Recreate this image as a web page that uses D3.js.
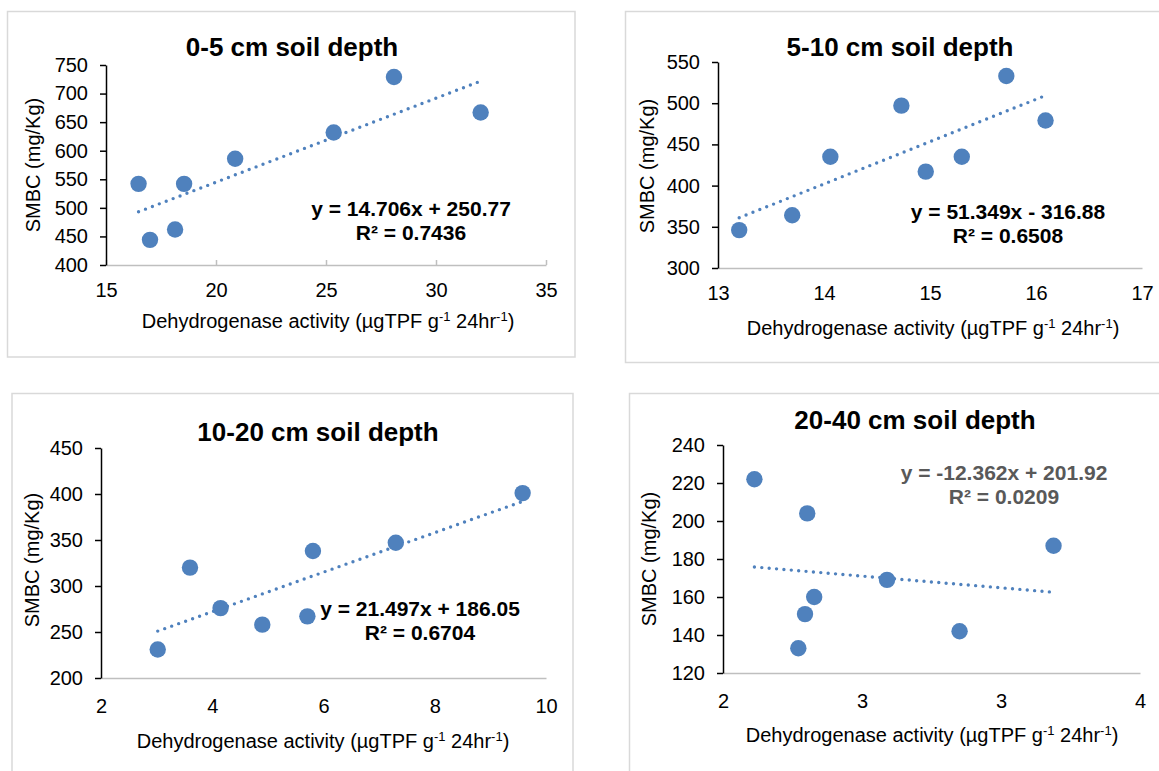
<!DOCTYPE html>
<html>
<head>
<meta charset="utf-8">
<script src="https://cdn.jsdelivr.net/npm/d3@7"></script>
<style>
  html, body { margin: 0; padding: 0; background: #ffffff; }
  svg { display: block; }
</style>
</head>
<body>
<svg id="chart" width="1159" height="771"></svg>
<script>
// ---------------- DATA ----------------
const titles = ["0-5 cm soil depth", "5-10 cm soil depth", "10-20 cm soil depth", "20-40 cm soil depth"];
const xAxisTitle = "Dehydrogenase activity (µgTPF g";
const yAxisTitle = "SMBC (mg/Kg)";

const x0_5 = [16.48, 17.0, 18.14, 18.55, 20.87, 25.35, 28.09, 32.03];
const y0_5 = [542, 444, 462, 542, 586, 632, 729, 667];

const x5_10 = [13.2, 13.7, 14.06, 14.73, 14.96, 15.3, 15.72, 16.09];
const y5_10 = [346, 364, 435, 497, 417, 435, 533, 479];

const x10_20 = [3.02, 3.6, 4.15, 4.9, 5.71, 5.81, 7.3, 9.58];
const y10_20 = [231, 320, 276, 258, 267, 338, 347, 401];

const x20_40 = [2.113, 2.303, 2.328, 2.295, 2.271, 2.59, 2.851, 3.189];
const y20_40 = [222, 204, 160, 151, 133, 169, 142, 187];

const slopes = [14.706, 51.349, 21.497, -12.362];
const intercepts = [250.77, -316.88, 186.05, 201.92];
const eqTexts = ["y = 14.706x + 250.77", "y = 51.349x - 316.88", "y = 21.497x + 186.05", "y = -12.362x + 201.92"];
const r2Texts = ["R² = 0.7436", "R² = 0.6508", "R² = 0.6704", "R² = 0.0209"];

const xDomains = [[15, 35], [13, 17], [2, 10], [2, 3.5]];
const yDomains = [[400, 750], [300, 550], [200, 450], [120, 240]];
const xTickValues = [[15, 20, 25, 30, 35], [13, 14, 15, 16, 17], [2, 4, 6, 8, 10], [2, 2.5, 3, 3.5]];
const xTickLabels = [["15", "20", "25", "30", "35"], ["13", "14", "15", "16", "17"], ["2", "4", "6", "8", "10"], ["2", "3", "3", "4"]];
const yTickValues = [[400, 450, 500, 550, 600, 650, 700, 750], [300, 350, 400, 450, 500, 550], [200, 250, 300, 350, 400, 450], [120, 140, 160, 180, 200, 220, 240]];

const xSeries = [x0_5, x5_10, x10_20, x20_40];
const ySeries = [y0_5, y5_10, y10_20, y20_40];

// ---------------- LAYOUT ----------------
const layout = [
  { box: [7.5, 11.5, 575, 357], px: [106, 546], py: [265, 65], title: [292, 47], eq: [411, 209], xt: [328, 321], yt: [33, 165], xlab: 18, xticks: true, eqColor: "#000000" },
  { box: [625.5, 11.5, 1175, 362.5], px: [718, 1142], py: [268, 62], title: [900, 47], eq: [1008, 212], xt: [933, 328], yt: [647, 166], xlab: 18, xticks: false, eqColor: "#000000" },
  { box: [12, 393.5, 573, 800], px: [101, 546], py: [678, 448], title: [318, 432], eq: [420, 609], xt: [323, 741], yt: [32, 560], xlab: 21, xticks: false, eqColor: "#000000" },
  { box: [629.5, 393.5, 1175, 800], px: [723, 1140], py: [673, 445], title: [915, 420], eq: [1004, 473], xt: [932, 735], yt: [649, 559], xlab: 21, xticks: false, eqColor: "#595959" }
];

const FONT = "'Liberation Sans', Arial, Helvetica, sans-serif";
const BLUE = "#4F81BD";

const svg = d3.select("#chart");

titles.forEach((t, i) => {
  const L = layout[i];
  const g = svg.append("g");
  // frame
  g.append("rect")
    .attr("x", L.box[0]).attr("y", L.box[1])
    .attr("width", L.box[2] - L.box[0]).attr("height", L.box[3] - L.box[1])
    .attr("fill", "#ffffff").attr("stroke", "#d9d9d9").attr("stroke-width", 1.5);

  const x = d3.scaleLinear().domain(xDomains[i]).range(L.px);
  const y = d3.scaleLinear().domain(yDomains[i]).range(L.py);

  // x axis
  const xa = g.append("g").attr("transform", `translate(0,${L.py[0]})`)
    .call(d3.axisBottom(x).tickValues(xTickValues[i])
      .tickFormat((d, k) => xTickLabels[i][k])
      .tickSize(L.xticks ? -5 : 0).tickSizeOuter(0).tickPadding(L.xlab));
  xa.select(".domain").attr("stroke", "#bfbfbf").attr("stroke-width", 1.5);
  xa.selectAll(".tick line").attr("stroke", "#bfbfbf").attr("stroke-width", 1.5);
  xa.selectAll(".tick text").attr("font-family", FONT).attr("font-size", 20).attr("fill", "#000")
    .attr("y", L.xlab).attr("dy", "0.71em");

  // y axis
  const ya = g.append("g").attr("transform", `translate(${L.px[0]},0)`)
    .call(d3.axisLeft(y).tickValues(yTickValues[i]).tickFormat(d3.format("d"))
      .tickSize(6).tickSizeOuter(0).tickPadding(12));
  ya.select(".domain").attr("stroke", "#000").attr("stroke-width", 1.5);
  ya.selectAll(".tick line").attr("stroke", "#000").attr("stroke-width", 1.5);
  ya.selectAll(".tick text").attr("font-family", FONT).attr("font-size", 20).attr("fill", "#000");

  // trendline
  const xmin = d3.min(xSeries[i]), xmax = d3.max(xSeries[i]);
  g.append("line")
    .attr("x1", x(xmin)).attr("y1", y(slopes[i] * xmin + intercepts[i]))
    .attr("x2", x(xmax)).attr("y2", y(slopes[i] * xmax + intercepts[i]))
    .attr("stroke", BLUE).attr("stroke-width", 3.4)
    .attr("stroke-linecap", "round").attr("stroke-dasharray", "0,7.4");

  // points
  g.selectAll("circle.pt").data(xSeries[i].map((v, k) => [v, ySeries[i][k]]))
    .join("circle").attr("class", "pt")
    .attr("cx", d => x(d[0])).attr("cy", d => y(d[1])).attr("r", 8.2)
    .attr("fill", BLUE);

  // title
  g.append("text").attr("x", L.title[0]).attr("y", L.title[1]).attr("dy", "0.35em")
    .attr("text-anchor", "middle").attr("font-family", FONT).attr("font-weight", "bold")
    .attr("font-size", 26).attr("fill", "#000").text(t);

  // equation
  g.append("text").attr("x", L.eq[0]).attr("y", L.eq[1]).attr("dy", "0.35em")
    .attr("text-anchor", "middle").attr("font-family", FONT).attr("font-weight", "bold")
    .attr("font-size", 21).attr("fill", L.eqColor).text(eqTexts[i]);
  g.append("text").attr("x", L.eq[0]).attr("y", L.eq[1] + 24).attr("dy", "0.35em")
    .attr("text-anchor", "middle").attr("font-family", FONT).attr("font-weight", "bold")
    .attr("font-size", 21).attr("fill", L.eqColor).text(r2Texts[i]);

  // x axis title with superscripts
  const xt = g.append("text").attr("x", L.xt[0]).attr("y", L.xt[1]).attr("dy", "0.35em")
    .attr("text-anchor", "middle").attr("font-family", FONT).attr("font-size", 20).attr("fill", "#000");
  xt.append("tspan").text(xAxisTitle);
  xt.append("tspan").attr("font-size", 13).attr("dy", -7).text("-1");
  xt.append("tspan").attr("dy", 7).text(" 24hr");
  xt.append("tspan").attr("font-size", 13).attr("dy", -7).text("-1");
  xt.append("tspan").attr("dy", 7).text(")");

  // y axis title
  g.append("text").attr("transform", `translate(${L.yt[0]},${L.yt[1]}) rotate(-90)`)
    .attr("dy", "0.35em").attr("text-anchor", "middle")
    .attr("font-family", FONT).attr("font-size", 20).attr("fill", "#000").text(yAxisTitle);
});
</script>
</body>
</html>
